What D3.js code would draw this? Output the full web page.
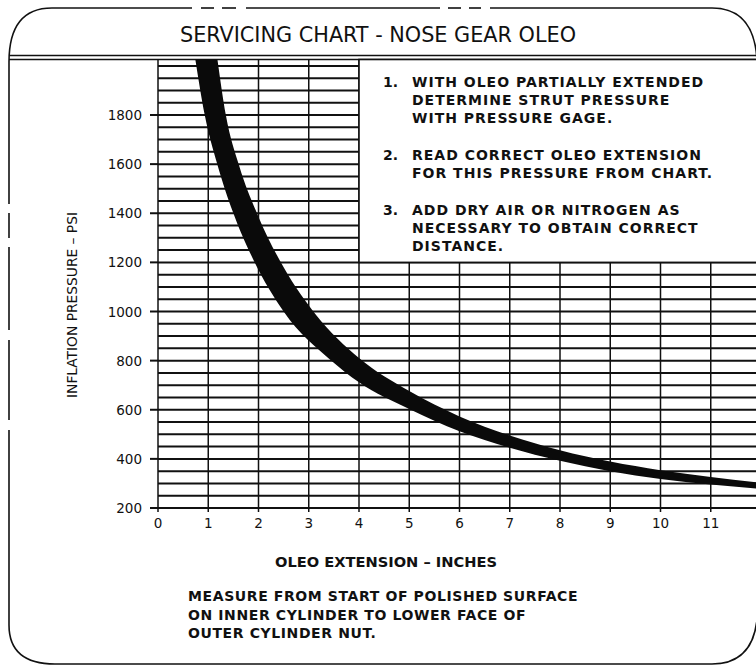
<!DOCTYPE html>
<html>
<head>
<meta charset="utf-8">
<script src="https://cdn.jsdelivr.net/npm/d3@7"></script>
<style>
  body { margin: 0; background: #fff; }
  svg { display: block; }
  text { fill: #111; font-family: "DejaVu Sans Condensed", "Liberation Sans Narrow", "DejaVu Sans", sans-serif; }
  .wide { font-family: "DejaVu Sans", sans-serif; }
</style>
</head>
<body>
<div id="chart"></div>
<script>
// Datos
const extensionTicks = [0, 1, 2, 3, 4, 5, 6, 7, 8, 9, 10, 11]
const pressureTicks = [200, 400, 600, 800, 1000, 1200, 1400, 1600, 1800]

// Banda: borde superior (alta presion) y borde inferior (baja presion)
const highExt = [1.18, 1.35, 1.62, 2.0, 2.5, 3.15, 4.0, 5.0, 6.0, 7.0, 8.0, 9.0, 10.0, 11.0, 12.0]
const highPsi = [2030, 1800, 1590, 1385, 1180, 985, 811, 676, 573, 495, 435, 389, 354, 326, 303]
const lowExt = [0.74, 0.93, 1.18, 1.5, 1.9, 2.5, 3.45, 4.0, 5.0, 6.0, 7.0, 8.0, 9.0, 10.0, 11.0, 12.0]
const lowPsi = [2030, 1800, 1600, 1400, 1210, 1000, 800, 712, 603, 512, 445, 392, 350, 318, 296, 278]

const title = "SERVICING CHART - NOSE GEAR OLEO"
const yTitle = "INFLATION PRESSURE – PSI"
const xTitle = "OLEO EXTENSION – INCHES"
const steps = [
  ["1.", ["WITH OLEO PARTIALLY EXTENDED", "DETERMINE STRUT PRESSURE", "WITH PRESSURE GAGE."]],
  ["2.", ["READ CORRECT OLEO EXTENSION", "FOR THIS PRESSURE FROM CHART."]],
  ["3.", ["ADD DRY AIR OR NITROGEN AS", "NECESSARY TO OBTAIN CORRECT", "DISTANCE."]],
]
const note = [
  "MEASURE FROM START OF POLISHED SURFACE",
  "ON INNER CYLINDER TO LOWER FACE OF",
  "OUTER CYLINDER NUT.",
]

const W = 756, H = 668
const plotTop = 59.5, plotBottom = 508, plotLeft = 158

const x = d3.scaleLinear().domain([0, 12]).range([plotLeft, 761])
const y = d3.scaleLinear().domain([200, 1800]).range([plotBottom, 115])

const svg = d3.select("#chart").append("svg")
  .attr("width", W)
  .attr("height", H)

svg.append("defs").append("clipPath")
    .attr("id", "plot")
  .append("rect")
    .attr("x", plotLeft)
    .attr("y", plotTop)
    .attr("width", W - plotLeft)
    .attr("height", plotBottom - plotTop)

// Marco redondeado
const frame = svg.append("g")
  .attr("fill", "none")
  .attr("stroke", "#111")
  .attr("stroke-width", 1.6)

const topSegs = [[52, 192], [201, 214], [222, 236], [246, 440], [448, 461], [469, 481], [490, 712]]
topSegs.forEach(s => {
  frame.append("line").attr("x1", s[0]).attr("x2", s[1]).attr("y1", 8).attr("y2", 8)
})
frame.append("path").attr("d", "M9,62 Q9,8 52,8")
frame.append("path").attr("d", "M712,8 Q754,8 757,60")
const leftSegs = [[62, 204], [213, 238], [247, 330], [340, 420], [430, 625]]
leftSegs.forEach(s => {
  frame.append("line").attr("x1", 9).attr("x2", 9).attr("y1", s[0]).attr("y2", s[1])
})
frame.append("path").attr("d", "M9,625 Q9,664 55,664 L712,664 Q752,664 757,620")

// Doble linea bajo el titulo
svg.append("line").attr("x1", 9).attr("x2", W).attr("y1", 55.5).attr("y2", 55.5)
  .attr("stroke", "#111").attr("stroke-width", 1.6)
svg.append("line").attr("x1", 9).attr("x2", W).attr("y1", plotTop).attr("y2", plotTop)
  .attr("stroke", "#111").attr("stroke-width", 1.6)

svg.append("text")
  .attr("x", 378)
  .attr("y", 42)
  .attr("text-anchor", "middle")
  .attr("font-size", 22)
  .attr("textLength", 396)
  .attr("lengthAdjust", "spacingAndGlyphs")
  .text(title)

// Rejilla
const grid = svg.append("g")
const hLines = d3.range(250, 2001, 50)
grid.selectAll(".h")
  .data(hLines)
  .join("line")
    .attr("x1", plotLeft)
    .attr("x2", W)
    .attr("y1", d => y(d))
    .attr("y2", d => y(d))
    .attr("stroke", "#111")
    .attr("stroke-width", 2)

grid.selectAll(".v")
  .data(extensionTicks)
  .join("line")
    .attr("x1", d => x(d))
    .attr("x2", d => x(d))
    .attr("y1", plotTop)
    .attr("y2", plotBottom + 4)
    .attr("stroke", "#111")
    .attr("stroke-width", 1.5)

// Cuadro de instrucciones
svg.append("rect")
  .attr("x", x(4))
  .attr("y", plotTop)
  .attr("width", W - x(4) + 2)
  .attr("height", y(1200) - plotTop)
  .attr("fill", "#fff")
  .attr("stroke", "#111")
  .attr("stroke-width", 1.6)

// Banda de la curva
const line = d3.line()
  .x(d => x(d[0]))
  .y(d => y(d[1]))
  .curve(d3.curveMonotoneX)

const highPts = highExt.map((e, i) => [e, highPsi[i]])
const lowPts = lowExt.map((e, i) => [e, lowPsi[i]])
const lowPath = line(lowPts.slice().reverse())

svg.append("path")
  .attr("clip-path", "url(#plot)")
  .attr("d", line(highPts) + "L" + lowPath.slice(1) + "Z")
  .attr("fill", "#0a0a0a")

// Eje y
const yAxis = svg.append("g")
yAxis.selectAll("line")
  .data(pressureTicks)
  .join("line")
    .attr("x1", 150)
    .attr("x2", plotLeft)
    .attr("y1", d => y(d))
    .attr("y2", d => y(d))
    .attr("stroke", "#111")
    .attr("stroke-width", 2)
yAxis.append("line")
  .attr("x1", 150).attr("x2", W)
  .attr("y1", y(200)).attr("y2", y(200))
  .attr("stroke", "#111").attr("stroke-width", 2)
yAxis.selectAll("text")
  .data(pressureTicks)
  .join("text")
    .attr("class", "wide")
    .attr("x", 142)
    .attr("y", d => y(d) + 5)
    .attr("text-anchor", "end")
    .attr("font-size", 13.5)
    .text(d => d)

svg.append("text")
  .attr("transform", "translate(77, 305) rotate(-90)")
  .attr("text-anchor", "middle")
  .attr("font-size", 14)
  .attr("textLength", 186)
  .attr("lengthAdjust", "spacingAndGlyphs")
  .text(yTitle)

// Eje x
svg.append("g").selectAll("text")
  .data(extensionTicks)
  .join("text")
    .attr("class", "wide")
    .attr("x", d => x(d))
    .attr("y", 528)
    .attr("text-anchor", "middle")
    .attr("font-size", 13.5)
    .text(d => d)

svg.append("text")
  .attr("x", 386)
  .attr("y", 567)
  .attr("text-anchor", "middle")
  .attr("font-size", 14)
  .attr("font-weight", "bold")
  .attr("textLength", 222)
  .attr("lengthAdjust", "spacingAndGlyphs")
  .text(xTitle)

// Instrucciones
let lineY = 87
steps.forEach(s => {
  svg.append("text")
    .attr("class", "wide")
    .attr("x", 383)
    .attr("y", lineY)
    .attr("font-size", 14)
    .attr("font-weight", "bold")
    .text(s[0])
  s[1].forEach(t => {
    svg.append("text")
      .attr("class", "wide")
      .attr("x", 412)
      .attr("y", lineY)
      .attr("font-size", 14)
      .attr("font-weight", "bold")
      .attr("letter-spacing", 1)
      .text(t)
    lineY += 18
  })
  lineY += 19
})

// Nota inferior
note.forEach((t, i) => {
  svg.append("text")
    .attr("class", "wide")
    .attr("x", 188)
    .attr("y", 601 + i * 18.5)
    .attr("font-size", 14)
    .attr("font-weight", "bold")
    .attr("letter-spacing", 0.6)
    .text(t)
})
</script>
</body>
</html>
